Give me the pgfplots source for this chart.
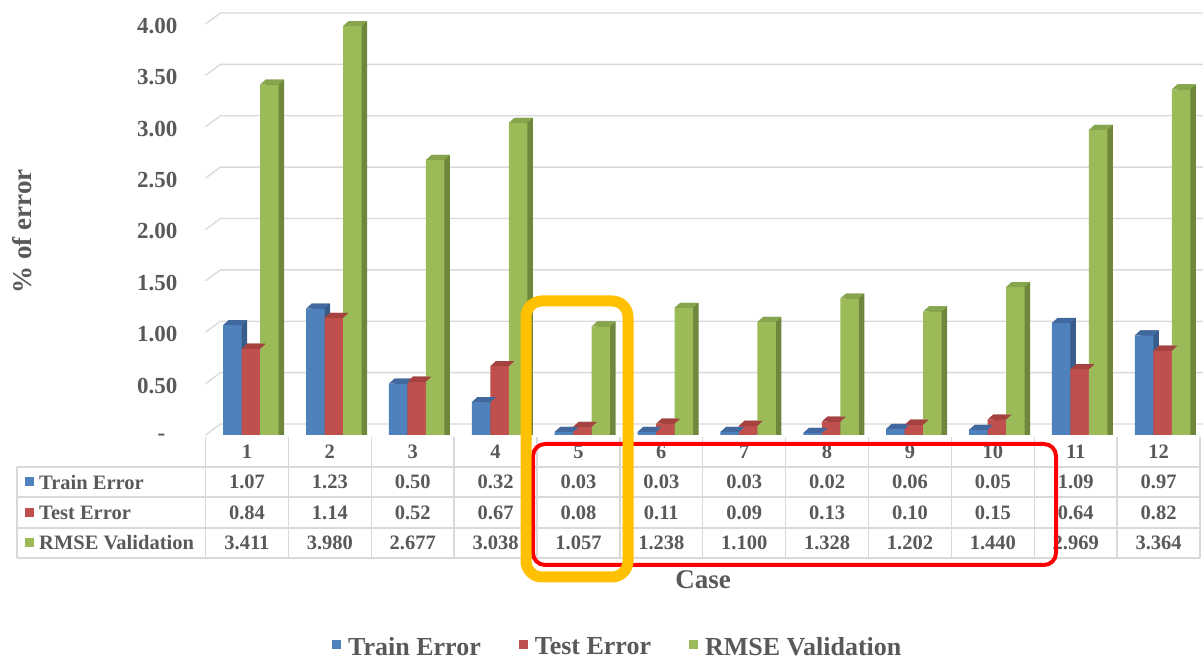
\documentclass[border=0pt]{standalone}
\usepackage{pgfplots}
\pgfplotsset{compat=1.18}
\usepackage{pgfplotstable}
\usepackage{fontspec}
\setmainfont{Liberation Serif}
\definecolor{txt}{HTML}{595959}
\definecolor{gridc}{HTML}{D9D9D9}
\definecolor{bF}{HTML}{4F81BD}\definecolor{bD}{HTML}{385D8A}\definecolor{bT}{HTML}{4169A0}
\definecolor{rF}{HTML}{C0504D}\definecolor{rD}{HTML}{8C3836}\definecolor{rT}{HTML}{A54240}
\definecolor{gF}{HTML}{9BBB59}\definecolor{gD}{HTML}{6E873D}\definecolor{gT}{HTML}{87A54C}
\definecolor{orangebox}{HTML}{FFC000}
\definecolor{redbox}{HTML}{FF0000}
\pgfplotstableread{
case train test rmse
1 1.07 0.84 3.411
2 1.23 1.14 3.980
3 0.50 0.52 2.677
4 0.32 0.67 3.038
5 0.03 0.08 1.057
6 0.03 0.11 1.238
7 0.03 0.09 1.100
8 0.02 0.13 1.328
9 0.06 0.10 1.202
10 0.05 0.15 1.440
11 1.09 0.64 2.969
12 0.97 0.82 3.364
}\datatable
% top faces of the 3D bars (parallelograms), one per series offset
\pgfdeclareplotmark{topB}{\pgfpathmoveto{\pgfqpoint{-23.75pt}{0pt}}\pgfpathlineto{\pgfqpoint{-5.25pt}{0pt}}\pgfpathlineto{\pgfqpoint{0.25pt}{5pt}}\pgfpathlineto{\pgfqpoint{-18.25pt}{5pt}}\pgfpathclose\pgfusepathqfill}
\pgfdeclareplotmark{topR}{\pgfpathmoveto{\pgfqpoint{-5.25pt}{0pt}}\pgfpathlineto{\pgfqpoint{13.25pt}{0pt}}\pgfpathlineto{\pgfqpoint{18.75pt}{5pt}}\pgfpathlineto{\pgfqpoint{0.25pt}{5pt}}\pgfpathclose\pgfusepathqfill}
\pgfdeclareplotmark{topG}{\pgfpathmoveto{\pgfqpoint{13.25pt}{0pt}}\pgfpathlineto{\pgfqpoint{31.75pt}{0pt}}\pgfpathlineto{\pgfqpoint{37.25pt}{5pt}}\pgfpathlineto{\pgfqpoint{18.75pt}{5pt}}\pgfpathclose\pgfusepathqfill}
\newcommand\tfont{\fontsize{20.5}{24}\selectfont\bfseries}
\newcommand\lfont{\fontsize{26}{30}\selectfont\bfseries}
\newcommand\afont{\fontsize{27}{31}\selectfont\bfseries}
\begin{document}
\begin{tikzpicture}[x=1pt,y=1pt]
\path[use as bounding box] (0,0) rectangle (1203,659);
% back-wall gridlines
\foreach \v in {0,0.5,...,4} {
  \draw[gridc, line width=1.3pt] (205.5,{224+102.75*\v}) -- ++(15,11) -- (1203,{235+102.75*\v});
}
\begin{axis}[
  at={(205.5pt,224pt)}, anchor=south west,
  scale only axis, width=994.5pt, height=411pt,
  xmin=0.5, xmax=12.5, ymin=0, ymax=4,
  clip=false,
  axis line style={draw=none}, major tick length=0pt,
  xtick=\empty,
  ytick={0,0.5,1,1.5,2,2.5,3,3.5,4},
  yticklabels={{-\hspace*{12pt}},0.50,1.00,1.50,2.00,2.50,3.00,3.50,4.00},
  yticklabel style={font=\fontsize{23}{27}\selectfont\bfseries, text=txt, anchor=east, inner sep=0pt, xshift=-28pt, yshift=-2pt},
  bar width=18.5pt,
  legend columns=3,
  legend cell align=left,
  legend style={at={(axis description cs:0.1272,-0.516)}, anchor=west, draw=none, fill=none, inner sep=0pt,
    font=\lfont, text=txt,
    /tikz/every odd column/.append style={column sep=5pt},
    /tikz/every even column/.append style={column sep=36pt}},
]
\addplot[ybar, bar shift=-9pt, fill=bD, draw=none, forget plot] table[x=case, y expr=\thisrow{train}+0.0487] {\datatable};
\addplot[ybar, bar shift=-14.5pt, fill=bF, draw=none, legend image code/.code={\fill (0pt,-1.5pt) rectangle (9pt,7.5pt);}] table[x=case, y=train] {\datatable};
\addplot[only marks, mark=topB, mark options={fill=bT, draw=none}, forget plot] table[x=case, y=train] {\datatable};
\addplot[ybar, bar shift=9.5pt, fill=rD, draw=none, forget plot] table[x=case, y expr=\thisrow{test}+0.0487] {\datatable};
\addplot[ybar, bar shift=4pt, fill=rF, draw=none, legend image code/.code={\fill (0pt,-1.5pt) rectangle (9pt,7.5pt);}] table[x=case, y=test] {\datatable};
\addplot[only marks, mark=topR, mark options={fill=rT, draw=none}, forget plot] table[x=case, y=test] {\datatable};
\addplot[ybar, bar shift=28pt, fill=gD, draw=none, forget plot] table[x=case, y expr=\thisrow{rmse}+0.0487] {\datatable};
\addplot[ybar, bar shift=22.5pt, fill=gF, draw=none, legend image code/.code={\fill (0pt,-1.5pt) rectangle (9pt,7.5pt);}] table[x=case, y=rmse] {\datatable};
\addplot[only marks, mark=topG, mark options={fill=gT, draw=none}, forget plot] table[x=case, y=rmse] {\datatable};
\legend{Train Error, Test Error, RMSE Validation}
\end{axis}
% data table grid
\foreach \yy in {192,162,131,101} { \draw[gridc, line width=1.3pt] (17,\yy) -- (1200,\yy); }
\draw[gridc, line width=1.3pt] (17,192) -- (17,101);
\foreach \k in {0,...,12} { \draw[gridc, line width=1.3pt] ({205.5+82.875*\k},222) -- ({205.5+82.875*\k},101); }
% data table text
\foreach \r in {0,...,11} {
  \pgfmathsetmacro\xc{205.5+82.875*(\r+0.5)}
  \pgfplotstablegetelem{\r}{case}\of\datatable
  \node[font=\tfont, text=txt] at (\xc,207) {\pgfplotsretval};
  \pgfplotstablegetelem{\r}{train}\of\datatable
  \node[font=\tfont, text=txt] at (\xc,177) {\pgfplotsretval};
  \pgfplotstablegetelem{\r}{test}\of\datatable
  \node[font=\tfont, text=txt] at (\xc,146.5) {\pgfplotsretval};
  \pgfplotstablegetelem{\r}{rmse}\of\datatable
  \node[font=\tfont, text=txt] at (\xc,116) {\pgfplotsretval};
}
\fill[bF] (25,172.5) rectangle (34,181.5);
\node[font=\tfont, text=txt, anchor=west, inner sep=0pt] at (39,177) {Train Error};
\fill[rF] (25,142) rectangle (34,151);
\node[font=\tfont, text=txt, anchor=west, inner sep=0pt] at (39,146.5) {Test Error};
\fill[gF] (25,111.5) rectangle (34,120.5);
\node[font=\tfont, text=txt, anchor=west, inner sep=0pt] at (39,116) {RMSE Validation};
% axis titles
\node[font=\afont, text=txt, rotate=90] at (22.5,427.5) {\% of error};
\node[font=\afont, text=txt] at (703,79) {Case};
% highlight boxes
\draw[redbox, line width=4pt, rounded corners=12pt] (533,215) rectangle (1056,94);
\draw[orangebox, line width=11pt, rounded corners=16pt] (526,358) rectangle (628,82);
\end{tikzpicture}
\end{document}
